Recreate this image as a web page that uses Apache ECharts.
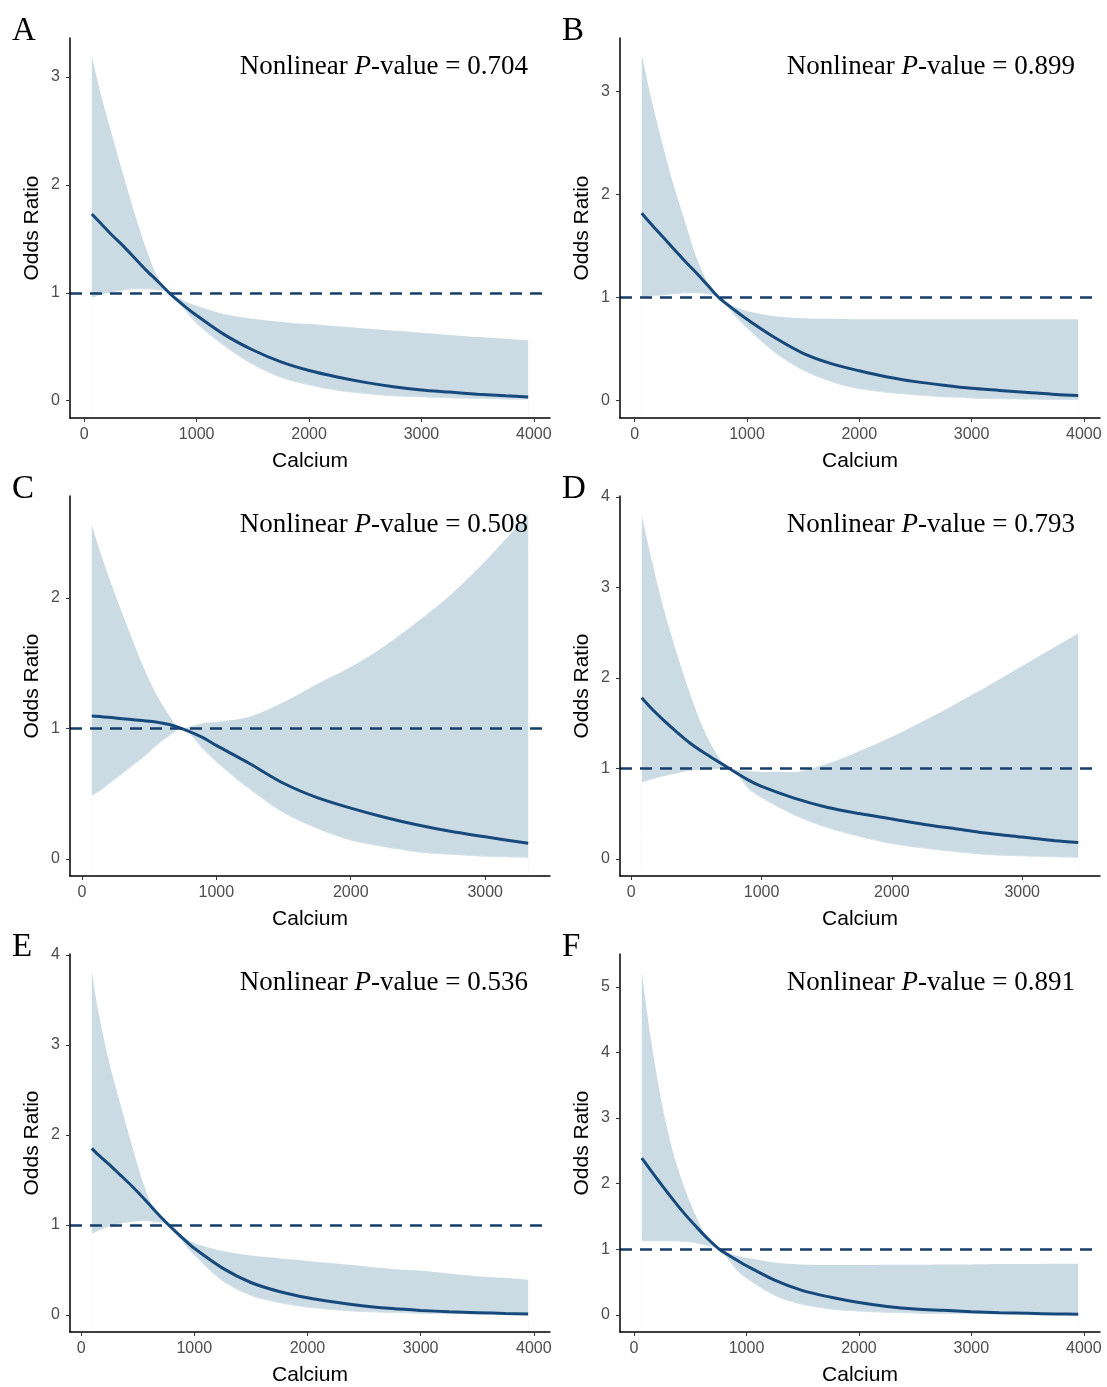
<!DOCTYPE html>
<html>
<head>
<meta charset="utf-8">
<title>Calcium and Odds Ratio</title>
<script src="https://cdn.jsdelivr.net/npm/echarts@6/dist/echarts.min.js"></script>
<style>
  html, body { margin: 0; padding: 0; background: #fff; }
  #chart { width: 1107px; height: 1387px; }
</style>
</head>
<body>
<div id="chart"></div>
<script>
// values (Calcium, OR, lower CI, upper CI)
var calA = [67, 150, 250, 350, 450, 550, 650, 755, 900, 1000, 1250, 1500, 1750, 2000, 2250, 2500, 2750, 3000, 3250, 3500, 3750, 3950];
var orA  = [1.73, 1.64, 1.53, 1.43, 1.32, 1.21, 1.11, 1.0, 0.87, 0.79, 0.61, 0.47, 0.36, 0.28, 0.22, 0.17, 0.13, 0.10, 0.08, 0.06, 0.045, 0.035];
var loA  = [0.95, 0.98, 1.0, 1.02, 1.03, 1.03, 1.02, 1.0, 0.83, 0.71, 0.50, 0.33, 0.21, 0.14, 0.09, 0.06, 0.04, 0.03, 0.02, 0.015, 0.01, 0.008];
var hiA  = [3.19, 2.83, 2.45, 2.08, 1.73, 1.41, 1.15, 1.0, 0.92, 0.88, 0.80, 0.76, 0.73, 0.71, 0.69, 0.67, 0.65, 0.63, 0.61, 0.59, 0.575, 0.56];

var calB = [63, 150, 250, 350, 450, 550, 650, 750, 900, 1000, 1250, 1500, 1750, 2000, 2250, 2500, 2750, 3000, 3250, 3500, 3750, 3950];
var orB  = [1.82, 1.71, 1.59, 1.47, 1.35, 1.24, 1.12, 1.0, 0.87, 0.79, 0.61, 0.46, 0.36, 0.29, 0.23, 0.185, 0.15, 0.12, 0.10, 0.08, 0.06, 0.05];
var loB  = [0.99, 1.01, 1.02, 1.03, 1.04, 1.04, 1.03, 1.0, 0.81, 0.70, 0.46, 0.29, 0.18, 0.11, 0.075, 0.05, 0.03, 0.02, 0.015, 0.01, 0.007, 0.005];
var hiB  = [3.36, 2.92, 2.48, 2.08, 1.73, 1.39, 1.15, 1.0, 0.91, 0.87, 0.82, 0.80, 0.795, 0.79, 0.79, 0.79, 0.79, 0.79, 0.79, 0.79, 0.79, 0.79];

var calC = [74, 150, 250, 350, 450, 550, 650, 740, 900, 1000, 1250, 1500, 1750, 2000, 2250, 2500, 2750, 3000, 3320];
var orC  = [1.095, 1.09, 1.08, 1.07, 1.06, 1.05, 1.03, 1.0, 0.93, 0.87, 0.73, 0.58, 0.47, 0.39, 0.32, 0.26, 0.21, 0.17, 0.12];
var loC  = [0.48, 0.53, 0.61, 0.69, 0.77, 0.86, 0.94, 1.0, 0.84, 0.74, 0.53, 0.35, 0.23, 0.14, 0.09, 0.05, 0.03, 0.015, 0.008];
var hiC  = [2.56, 2.31, 2.02, 1.75, 1.49, 1.27, 1.10, 1.0, 1.04, 1.05, 1.09, 1.20, 1.34, 1.47, 1.63, 1.82, 2.03, 2.28, 2.64];

var calD = [81, 150, 250, 350, 450, 550, 650, 750, 900, 1000, 1250, 1500, 1750, 2000, 2250, 2500, 2750, 3000, 3250, 3430];
var orD  = [1.78, 1.67, 1.53, 1.40, 1.28, 1.18, 1.09, 1.0, 0.87, 0.80, 0.67, 0.57, 0.50, 0.44, 0.38, 0.33, 0.28, 0.24, 0.20, 0.18];
var loD  = [0.84, 0.87, 0.91, 0.94, 0.97, 0.98, 0.99, 1.0, 0.77, 0.67, 0.48, 0.34, 0.24, 0.16, 0.11, 0.07, 0.04, 0.025, 0.015, 0.01];
var hiD  = [3.80, 3.35, 2.76, 2.27, 1.83, 1.45, 1.17, 1.0, 0.97, 0.96, 0.96, 1.05, 1.19, 1.35, 1.53, 1.72, 1.92, 2.13, 2.34, 2.49];

var calE = [95, 150, 250, 350, 450, 550, 650, 773, 900, 1000, 1250, 1500, 1750, 2000, 2250, 2500, 2750, 3000, 3250, 3500, 3750, 3950];
var orE  = [1.85, 1.78, 1.67, 1.55, 1.43, 1.30, 1.16, 1.0, 0.85, 0.74, 0.52, 0.36, 0.26, 0.19, 0.14, 0.10, 0.07, 0.05, 0.035, 0.025, 0.015, 0.01];
var loE  = [0.90, 0.93, 0.98, 1.01, 1.03, 1.04, 1.03, 1.0, 0.80, 0.66, 0.37, 0.21, 0.13, 0.08, 0.05, 0.03, 0.02, 0.01, 0.007, 0.005, 0.004, 0.004];
var hiE  = [3.82, 3.38, 2.80, 2.33, 1.88, 1.46, 1.16, 1.0, 0.87, 0.80, 0.71, 0.66, 0.63, 0.60, 0.57, 0.54, 0.51, 0.49, 0.46, 0.43, 0.41, 0.39];

var calF = [69, 150, 250, 350, 450, 550, 650, 759, 900, 1000, 1250, 1500, 1750, 2000, 2250, 2500, 2750, 3000, 3250, 3500, 3750, 3950];
var orF  = [2.39, 2.20, 1.97, 1.75, 1.54, 1.35, 1.17, 1.0, 0.85, 0.75, 0.53, 0.37, 0.27, 0.19, 0.13, 0.09, 0.07, 0.05, 0.035, 0.025, 0.015, 0.01];
var loF  = [1.12, 1.12, 1.12, 1.12, 1.11, 1.09, 1.05, 1.0, 0.70, 0.55, 0.29, 0.15, 0.08, 0.05, 0.03, 0.02, 0.012, 0.01, 0.007, 0.005, 0.004, 0.004];
var hiF  = [5.23, 4.20, 3.20, 2.46, 1.93, 1.51, 1.17, 1.0, 0.91, 0.87, 0.80, 0.77, 0.76, 0.76, 0.765, 0.765, 0.77, 0.77, 0.775, 0.775, 0.78, 0.78];

var letters = ['A', 'B', 'C', 'D', 'E', 'F'];
var pValues = ['0.704', '0.899', '0.508', '0.793', '0.536', '0.891'];
var xTicksLong = [0, 1000, 2000, 3000, 4000];
var xTicksShort = [0, 1000, 2000, 3000];
var yTicksA = [0, 1, 2, 3];
var yTicksB = [0, 1, 2, 3];
var yTicksC = [0, 1, 2];
var yTicksD = [0, 1, 2, 3, 4];
var yTicksE = [0, 1, 2, 3, 4];
var yTicksF = [0, 1, 2, 3, 4, 5];

var panels = [
  { cal: calA, or: orA, lo: loA, hi: hiA, xt: xTicksLong,  yt: yTicksA, xr: [-127, 4144], yr: [-0.16, 3.36] },
  { cal: calB, or: orB, lo: loB, hi: hiB, xt: xTicksLong,  yt: yTicksB, xr: [-131, 4144], yr: [-0.168, 3.52] },
  { cal: calC, or: orC, lo: loC, hi: hiC, xt: xTicksShort, yt: yTicksC, xr: [-88, 3482],  yr: [-0.13, 2.78] },
  { cal: calD, or: orD, lo: loD, hi: hiD, xt: xTicksShort, yt: yTicksD, xr: [-86, 3597],  yr: [-0.19, 4.01] },
  { cal: calE, or: orE, lo: loE, hi: hiE, xt: xTicksLong,  yt: yTicksE, xr: [-98, 4143],  yr: [-0.19, 4.01] },
  { cal: calF, or: orF, lo: loF, hi: hiF, xt: xTicksLong,  yt: yTicksF, xr: [-125, 4144], yr: [-0.26, 5.50] }
];

var pos = [
  { left: 70, top: 38 }, { left: 620, top: 38 },
  { left: 70, top: 496 }, { left: 620, top: 496 },
  { left: 70, top: 954 }, { left: 620, top: 954 }
];

var lineColor = '#174a7c';
var bandColor = '#cbdbe3';
var dashColor = '#163e6c';
var sans = 'Liberation Sans, Arial, sans-serif';
var serif = 'Liberation Serif, Times New Roman, serif';

var grids = [], xAxes = [], yAxes = [], series = [], titles = [];

function pairs(xs, ys) {
  return xs.map(function (x, k) { return [x, ys[k]]; });
}

panels.forEach(function (p, i) {
  grids.push({ left: pos[i].left, top: pos[i].top, width: 480, height: 380 });
  xAxes.push({
    type: 'value', gridIndex: i, min: p.xr[0], max: p.xr[1], z: 10,
    name: 'Calcium', nameLocation: 'middle', nameGap: 33,
    nameTextStyle: { fontFamily: sans, fontSize: 21, color: '#000' },
    splitLine: { show: false },
    axisLine: { onZero: false, lineStyle: { color: '#000', width: 1.5 } },
    axisTick: { customValues: p.xt, length: 4, lineStyle: { color: '#333', width: 1 } },
    axisLabel: {
      customValues: p.xt, margin: 9, fontFamily: sans, fontSize: 16, color: '#4d4d4d',
      formatter: function (v) { return String(v); }
    }
  });
  yAxes.push({
    type: 'value', gridIndex: i, min: p.yr[0], max: p.yr[1], z: 10,
    name: 'Odds Ratio', nameLocation: 'middle', nameGap: 27,
    nameTextStyle: { fontFamily: sans, fontSize: 21, color: '#000' },
    splitLine: { show: false },
    axisLine: { show: true, onZero: false, lineStyle: { color: '#000', width: 1.5 } },
    axisTick: { show: true, customValues: p.yt, length: 4, lineStyle: { color: '#333', width: 1 } },
    axisLabel: {
      customValues: p.yt, margin: 10, fontFamily: sans, fontSize: 16, color: '#4d4d4d',
      formatter: function (v) { return String(v); }
    }
  });

  // upper limit filled down to the axis, then the area under the lower limit is cleared
  series.push({
    type: 'line', xAxisIndex: i, yAxisIndex: i, z: 1,
    data: pairs(p.cal, p.hi), symbol: 'none', smooth: 0.3,
    lineStyle: { width: 0, opacity: 0 },
    areaStyle: { color: bandColor, opacity: 1, origin: 'start' }, silent: true
  });
  series.push({
    type: 'line', xAxisIndex: i, yAxisIndex: i, z: 2,
    data: pairs(p.cal, p.lo), symbol: 'none', smooth: 0.3,
    lineStyle: { width: 0, opacity: 0 },
    areaStyle: { color: '#ffffff', opacity: 1, origin: 'start', shadowColor: '#ffffff', shadowBlur: 2 },
    silent: true
  });
  series.push({
    type: 'line', xAxisIndex: i, yAxisIndex: i, z: 3,
    data: pairs(p.cal, p.or), symbol: 'none', smooth: 0.3,
    lineStyle: { color: lineColor, width: 3 },
    markLine: {
      silent: true, symbol: 'none', label: { show: false }, z: 4,
      lineStyle: { color: dashColor, width: 2.5, type: [12, 8] },
      data: [{ yAxis: 1 }]
    }
  });

  var rowTop = [0, 0, 458, 458, 916, 916][i];
  titles.push({
    text: letters[i], left: (i % 2 === 0) ? 7 : 557, top: 10 + rowTop,
    textStyle: { fontFamily: serif, fontSize: 33, fontWeight: 'normal', color: '#000' }
  });
  titles.push({
    text: '{n|Nonlinear }{i|P}{n|-value = ' + pValues[i] + '}',
    right: (i % 2 === 0) ? 574 : 27, top: 47 + rowTop,
    textStyle: {
      fontWeight: 'normal',
      rich: {
        n: { fontFamily: serif, fontSize: 27, fontWeight: 'normal', color: '#000', lineHeight: 30 },
        i: { fontFamily: serif, fontSize: 27, fontWeight: 'normal', fontStyle: 'italic', color: '#000', lineHeight: 30 }
      }
    }
  });
});

var chart = echarts.init(document.getElementById('chart'));
chart.setOption({
  backgroundColor: '#fff',
  animation: false,
  title: titles,
  grid: grids,
  xAxis: xAxes,
  yAxis: yAxes,
  series: series
});
</script>
</body>
</html>
